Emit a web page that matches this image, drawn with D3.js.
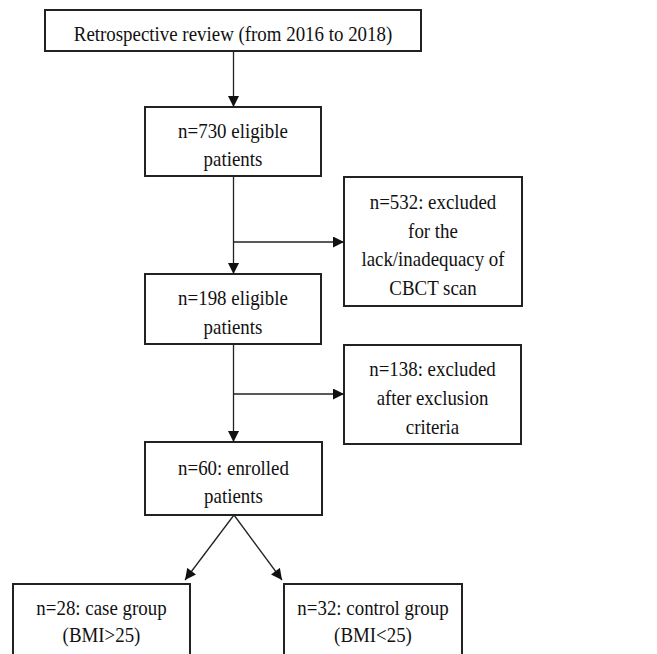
<!DOCTYPE html>
<html>
<head>
<meta charset="utf-8">
<script src="https://cdn.jsdelivr.net/npm/d3@7"></script>
<style>
  body { margin: 0; background: #fff; }
  svg text { font-family: "Times New Roman", "Liberation Serif", Times, serif; }
</style>
</head>
<body>
<div id="chart"></div>
<script>
// flow steps (text only)
var mainSteps = [
  ["Retrospective review (from 2016 to 2018)"],
  ["n=730 eligible", "patients"],
  ["n=198 eligible", "patients"],
  ["n=60: enrolled", "patients"]
];
var exclusions = [
  ["n=532: excluded", "for the", "lack/inadequacy of", "CBCT scan"],
  ["n=138: excluded", "after exclusion", "criteria"]
];
var groups = [
  ["n=28: case group", "(BMI>25)"],
  ["n=32: control group", "(BMI<25)"]
];

var width = 657, height = 654;

let svg = d3.select("#chart")
  .append("svg")
  .attr("width", width)
  .attr("height", height);

svg.append("defs")
  .append("marker")
  .attr("id", "arrow")
  .attr("viewBox", "0 0 10 10")
  .attr("refX", 10)
  .attr("refY", 5)
  .attr("markerUnits", "userSpaceOnUse")
  .attr("markerWidth", 12)
  .attr("markerHeight", 11)
  .attr("orient", "auto")
  .append("path")
  .attr("d", "M0,0 L10,5 L0,10 Z")
  .attr("fill", "#111");

// layout boxes
let boxes = [
  { x: 45, y: 10, w: 376, h: 41, lines: mainSteps[0] },
  { x: 145, y: 107, w: 176, h: 69, lines: mainSteps[1] },
  { x: 145, y: 274, w: 176, h: 70, lines: mainSteps[2] },
  { x: 145, y: 442, w: 177, h: 73, lines: mainSteps[3] },
  { x: 344, y: 177, w: 178, h: 129, lines: exclusions[0] },
  { x: 344, y: 345, w: 177, h: 99, lines: exclusions[1] },
  { x: 13, y: 584, w: 177, h: 90, lines: groups[0], base: 615, lh: 27 },
  { x: 284, y: 584, w: 178, h: 90, lines: groups[1], base: 615, lh: 27 }
];

let lineH = 28.8, fs = 21, sx = 0.9;
let g = svg.selectAll("g.box").data(boxes).enter().append("g").attr("class", "box");

g.append("rect")
  .attr("x", d => d.x)
  .attr("y", d => d.y)
  .attr("width", d => d.w)
  .attr("height", d => d.h)
  .attr("fill", "#fff")
  .attr("stroke", "#222")
  .attr("stroke-width", 2);

g.each(function (d) {
  let lh = d.lh || lineH;
  let b0 = d.base != null ? d.base : d.y + d.h / 2 - (d.lines.length - 1) * lh / 2 + 10.5;
  let tx = d.x + d.w / 2;
  d3.select(this).selectAll("text").data(d.lines).enter().append("text")
    .attr("transform", (t, i) => "translate(" + tx + "," + (b0 + i * lh) + ") scale(" + sx + ",1)")
    .attr("text-anchor", "middle")
    .attr("font-size", fs)
    .attr("fill", "#111")
    .text(t => t);
});

let cx = 233.5;
let links = [
  [[cx, 51], [cx, 107]],
  [[cx, 176], [cx, 274]],
  [[cx, 242], [344, 242]],
  [[cx, 344], [cx, 442]],
  [[cx, 394], [344, 394]],
  [[234, 515], [185, 580]],
  [[234, 515], [282, 580]]
];

svg.selectAll("path.link").data(links).enter().append("path")
  .attr("class", "link")
  .attr("d", d3.line())
  .attr("fill", "none")
  .attr("stroke", "#222")
  .attr("stroke-width", 1.3)
  .attr("marker-end", "url(#arrow)");
</script>
</body>
</html>
